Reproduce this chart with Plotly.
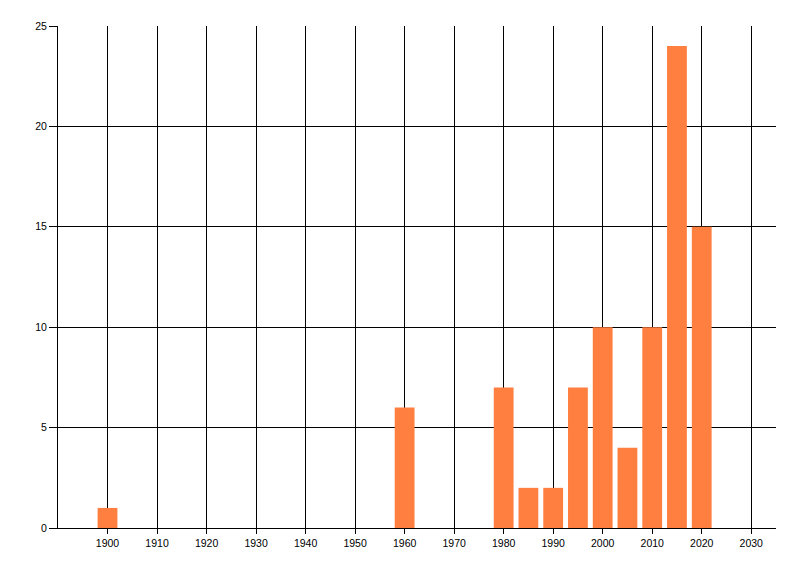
import plotly.graph_objects as go

years = [1900, 1960, 1980, 1985, 1990, 1995, 2000, 2005, 2010, 2015, 2020]
counts = [1, 6, 7, 2, 2, 7, 10, 4, 10, 24, 15]
x_ticks = [1900, 1910, 1920, 1930, 1940, 1950, 1960, 1970, 1980, 1990, 2000, 2010, 2020, 2030]
y_ticks = [0, 5, 10, 15, 20, 25]

fig = go.Figure(go.Bar(x=years, y=counts, width=4, marker=dict(color="#FF7F40", line=dict(width=0))))

fig.update_layout(
    width=800, height=576,
    margin=dict(l=50, r=32, t=18, b=56),
    paper_bgcolor="white", plot_bgcolor="white",
    font=dict(family="Liberation Sans, Arial, sans-serif", size=10.5, color="black"),
    showlegend=False,
)
fig.update_xaxes(
    range=[1890, 2035], tickvals=x_ticks, ticktext=[str(v) for v in x_ticks],
    showgrid=True, gridcolor="black", gridwidth=1,
    showline=True, linecolor="black", linewidth=1,
    ticks="outside", ticklen=5, tickcolor="black", zeroline=False, automargin=False,
)
fig.update_yaxes(
    range=[0, 25], tickvals=y_ticks,
    showgrid=True, gridcolor="black", gridwidth=1,
    showline=True, linecolor="black", linewidth=1,
    ticks="outside", ticklen=8, tickcolor="black", zeroline=False, automargin=False,
)

fig.write_html("out.html")
